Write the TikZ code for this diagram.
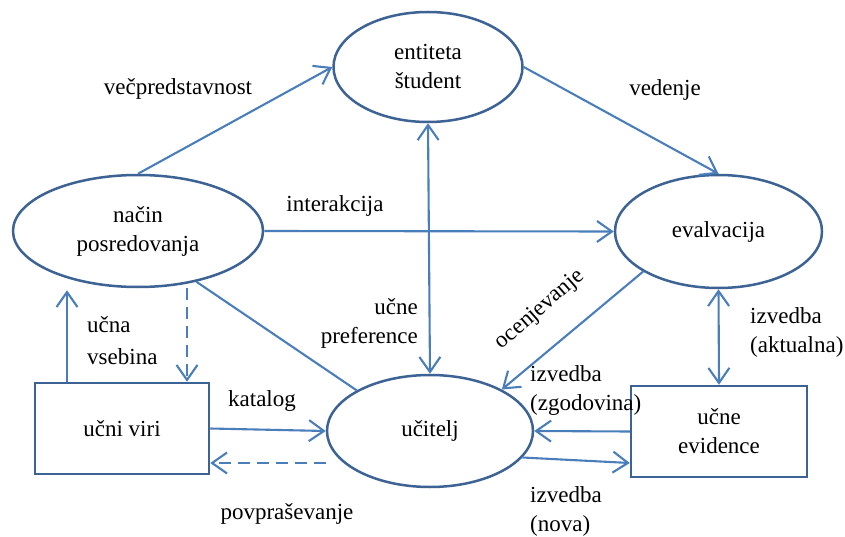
\documentclass[tikz,border=0pt]{standalone}
\usepackage{fontspec}
\setmainfont{Liberation Serif}
\usetikzlibrary{arrows.meta,shapes.geometric}
\definecolor{linkblue}{RGB}{74,126,187}
\definecolor{rimblue}{RGB}{60,99,148}
\begin{document}
\begin{tikzpicture}[x=1pt,y=-1pt,
  every node/.style={font=\fontsize{23}{29}\selectfont, text=black},
  >={Straight Barb[length=15pt,width=21pt]},
  oval/.style={ellipse, draw=rimblue, line width=2.5pt, inner sep=0pt, align=center},
  box/.style={rectangle, draw=rimblue, line width=2.5pt, inner sep=0pt, align=center},
  link/.style={draw=linkblue, line width=2.1pt},
  arr/.style={link, ->},
  arrboth/.style={link, <->},
  dashpat/.style={dash pattern=on 12pt off 7pt},
  lbl/.style={inner sep=0pt}]
  \fill[white] (0,0) rectangle (845,537);
  \useasboundingbox (0,0) rectangle (845,537);

  % main entities
  \node[oval, minimum width=189pt, minimum height=110pt] (stud)  at (428,67)    {entiteta\\študent};
  \node[oval, minimum width=250pt, minimum height=112pt] (nacin) at (138,231)   {način\\posredovanja};
  \node[oval, minimum width=207pt, minimum height=113pt] (eval)  at (718.5,231.5) {evalvacija};
  \node[oval, minimum width=206pt, minimum height=112pt] (uc)    at (430,431)   {učitelj};
  \node[box,  minimum width=174pt, minimum height=91pt]  (viri)  at (122,428.5) {učni viri};
  \node[box,  minimum width=176pt, minimum height=91pt]  (evid)  at (719,431.5) {učne\\evidence};

  % connectors
  \draw[arr] (nacin.north) -- (stud.west);
  \draw[arr] (stud.east) -- (eval.north);
  \draw[arr] (nacin.east) -- (eval.west);
  \draw[arrboth] (stud.south) -- (uc.north);
  \draw[link] (nacin.-41) -- (uc.151);

  \coordinate (vsebinaFoot) at ([xshift=-55pt]viri.north);
  \draw[arr, shorten >=2pt] (vsebinaFoot) -- (vsebinaFoot |- nacin.south);
  \coordinate (virTop) at ([xshift=65pt]viri.north);
  \draw[arr, dashpat] (virTop |- nacin.south) -- (virTop);

  \draw[arr] (viri.east) -- (uc.west);
  \coordinate (queryStart) at ([yshift=-32pt]uc.west);
  \draw[arr, dashpat] (queryStart) -- ([yshift=-34.5pt]viri.east);

  \draw[arr] (eval.208.8) -- (uc.30.5);
  \draw[arrboth] (eval.south) -- (evid.north);
  \draw[arr] (evid.west) -- (uc.east);
  \draw[arr] (uc.-16) -- ([yshift=-31.5pt]evid.west);

  % connector labels
  \node[lbl] (lMulti) at (178,89) {večpredstavnost};
  \node[lbl] (lVed) at (665,90) {vedenje};
  \node[lbl] (lInt) at (335,206) {interakcija};
  \node[lbl, align=right, anchor=east] (lPref) at (418,323) {učne\\preference};
  \node[lbl, align=left, anchor=west, font=\fontsize{23}{32}\selectfont] (lVseb) at (87,341) {učna\\vsebina};
  \node[lbl] (lKat) at (262,401) {katalog};
  \node[lbl] (lPovp) at (287,514) {povpraševanje};
  \node[lbl, rotate=41] (lOcen) at (540,310) {ocenjevanje};
  \node[lbl, align=left, anchor=west] (lAkt) at (750,332) {izvedba\\(aktualna)};
  \node[lbl, align=left, anchor=west] (lZgod) at (530,391) {izvedba\\(zgodovina)};
  \node[lbl, align=left, anchor=west] (lNova) at (530,511) {izvedba\\(nova)};
\end{tikzpicture}
\end{document}
